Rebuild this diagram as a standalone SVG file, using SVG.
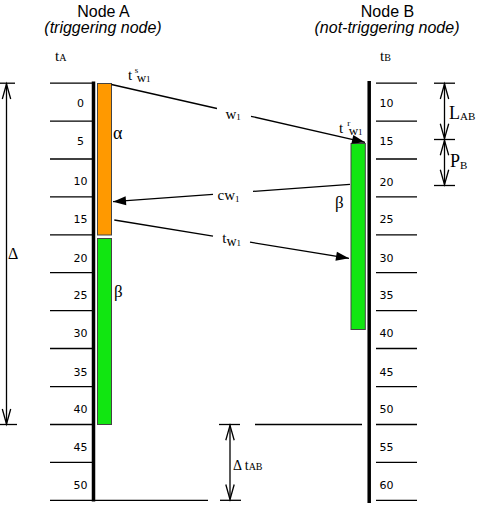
<svg xmlns="http://www.w3.org/2000/svg" width="487" height="512" viewBox="0 0 487 512">
<style>
.title{font-family:"Liberation Sans",Arial,sans-serif;font-size:16px;fill:#000;text-anchor:middle}
.ital{font-style:italic}
.num{font-family:"DejaVu Sans",Verdana,sans-serif;font-size:11px;fill:#000}
.ser{font-family:"Liberation Serif","Times New Roman",serif;fill:#000}
.tick{stroke:#000;stroke-width:1.3}
.axis{stroke:#000;stroke-width:3.5}
.dim{stroke:#000;stroke-width:1.3;fill:none}
.conn{stroke:#000;stroke-width:1.3;fill:none}
.bar{stroke:#444;stroke-width:1}
</style>
<defs>
<marker id="open" markerUnits="userSpaceOnUse" markerWidth="20" markerHeight="12" viewBox="-16 -6 18 12" refX="0" refY="0" orient="auto-start-reverse">
<path d="M-15,-4.2 L0,0 L-15,4.2" fill="none" stroke="#000" stroke-width="1.3"/>
</marker>
<marker id="fill" markerUnits="userSpaceOnUse" markerWidth="16" markerHeight="12" viewBox="-14 -6 15 12" refX="0" refY="0" orient="auto">
<path d="M-13,-4.5 L0,0 L-13,4.5 Z" fill="#000"/>
</marker>
</defs>

<g id="nodeA">
<text class="title" x="103.5" y="17">Node A</text>
<text class="title ital" x="103" y="33">(triggering node)</text>
<text class="ser" x="55" y="61" font-size="15">t<tspan font-size="10">A</tspan></text>
<line class="axis" x1="93.5" y1="81.5" x2="93.5" y2="501.5"/>
<g class="ticks">
<line class="tick" x1="50" y1="83.2" x2="92" y2="83.2"/>
<line class="tick" x1="50" y1="121.1" x2="92" y2="121.1"/>
<line class="tick" x1="50" y1="159" x2="92" y2="159"/>
<line class="tick" x1="50" y1="196.9" x2="92" y2="196.9"/>
<line class="tick" x1="50" y1="234.8" x2="92" y2="234.8"/>
<line class="tick" x1="50" y1="272.7" x2="92" y2="272.7"/>
<line class="tick" x1="50" y1="310.6" x2="92" y2="310.6"/>
<line class="tick" x1="50" y1="348.5" x2="92" y2="348.5"/>
<line class="tick" x1="50" y1="386.6" x2="92" y2="386.6"/>
<line class="tick" x1="50" y1="424.5" x2="92" y2="424.5"/>
<line class="tick" x1="50" y1="462.4" x2="92" y2="462.4"/>
<line class="tick" x1="50" y1="500.3" x2="208" y2="500.3"/>
</g>
<g class="num" text-anchor="middle">
<text x="80.5" y="106.7">0</text>
<text x="80.5" y="145">5</text>
<text x="80.5" y="185">10</text>
<text x="80.5" y="223.2">15</text>
<text x="80.5" y="261.7">20</text>
<text x="80.5" y="299.4">25</text>
<text x="80.5" y="337">30</text>
<text x="80.5" y="375.8">35</text>
<text x="80.5" y="413">40</text>
<text x="80.5" y="450.7">45</text>
<text x="80.5" y="488.7">50</text>
</g>
<rect class="bar" x="97.5" y="83.5" width="14" height="151.5" fill="#ff9900"/>
<rect class="bar" x="97.5" y="238.5" width="14" height="186" fill="#11e611"/>
<text class="ser" x="113" y="139" font-size="18">α</text>
<text class="ser" x="114" y="297" font-size="17">β</text>
</g>

<g id="nodeB">
<text class="title" x="387.5" y="17">Node B</text>
<text class="title ital" x="387" y="33">(not-triggering node)</text>
<text class="ser" x="380" y="61" font-size="15">t<tspan font-size="10">B</tspan></text>
<line class="axis" x1="369.2" y1="81" x2="369.2" y2="503"/>
<g class="ticks">
<line class="tick" x1="376" y1="83.2" x2="417" y2="83.2"/>
<line class="tick" x1="376" y1="121.1" x2="417" y2="121.1"/>
<line class="tick" x1="376" y1="159" x2="417" y2="159"/>
<line class="tick" x1="376" y1="196.9" x2="417" y2="196.9"/>
<line class="tick" x1="376" y1="234.8" x2="417" y2="234.8"/>
<line class="tick" x1="376" y1="272.7" x2="417" y2="272.7"/>
<line class="tick" x1="376" y1="310.6" x2="417" y2="310.6"/>
<line class="tick" x1="376" y1="348.5" x2="417" y2="348.5"/>
<line class="tick" x1="376" y1="386.6" x2="417" y2="386.6"/>
<line class="tick" x1="376" y1="424.5" x2="417" y2="424.5"/>
<line class="tick" x1="376" y1="462.4" x2="417" y2="462.4"/>
<line class="tick" x1="376" y1="500.3" x2="417" y2="500.3"/>
<line class="tick" x1="255" y1="424.5" x2="362" y2="424.5"/>
</g>
<g class="num">
<text x="379.5" y="106.7">10</text>
<text x="379.5" y="145">15</text>
<text x="379.5" y="185.5">20</text>
<text x="379.5" y="223.3">25</text>
<text x="379.5" y="261.7">30</text>
<text x="379.5" y="299.4">35</text>
<text x="379.5" y="336.8">40</text>
<text x="379.5" y="375.8">45</text>
<text x="379.5" y="412.8">50</text>
<text x="379.5" y="450.7">55</text>
<text x="379.5" y="488.5">60</text>
</g>
<rect class="bar" x="351" y="143.5" width="14.3" height="186" fill="#11e611"/>
<text class="ser" x="335" y="208" font-size="17">β</text>
</g>

<g id="dimensions">
<line class="dim" x1="0" y1="83.2" x2="15" y2="83.2"/>
<line class="dim" x1="0" y1="424.5" x2="17" y2="424.5"/>
<line class="dim" x1="6.5" y1="84" x2="6.5" y2="424" marker-start="url(#open)" marker-end="url(#open)"/>
<text class="ser" x="8" y="258.5" font-size="16">Δ</text>

<line class="dim" x1="219" y1="424.5" x2="240" y2="424.5"/>
<line class="dim" x1="220" y1="500.3" x2="241" y2="500.3"/>
<line class="dim" x1="230" y1="425.3" x2="230" y2="499.5" marker-start="url(#open)" marker-end="url(#open)"/>
<text class="ser" x="233" y="470" font-size="14">Δ t<tspan font-size="10">AB</tspan></text>

<line class="dim" x1="434" y1="83.2" x2="455" y2="83.2"/>
<line class="dim" x1="434" y1="139.5" x2="455" y2="139.5"/>
<line class="dim" x1="434" y1="185.5" x2="455" y2="185.5"/>
<line class="dim" x1="444.5" y1="84" x2="444.5" y2="138.7" marker-start="url(#open)" marker-end="url(#open)"/>
<line class="dim" x1="444.5" y1="140.3" x2="444.5" y2="184.7" marker-start="url(#open)" marker-end="url(#open)"/>
<text class="ser" x="449" y="118.5" font-size="18">L<tspan font-size="11" dy="1.5">AB</tspan></text>
<text class="ser" x="450" y="167" font-size="18">P<tspan font-size="11" dy="1.5">B</tspan></text>
</g>

<g id="connectors">
<line class="conn" x1="111.5" y1="84.5" x2="217" y2="108.5"/>
<line class="conn" x1="251" y1="116.3" x2="365" y2="142.3" marker-end="url(#fill)"/>
<line class="conn" x1="350" y1="184.3" x2="253" y2="191.4"/>
<line class="conn" x1="213" y1="194.4" x2="113" y2="201.7" marker-end="url(#fill)"/>
<line class="conn" x1="114.3" y1="220" x2="213" y2="236.1"/>
<line class="conn" x1="250" y1="242.2" x2="349" y2="258.3" marker-end="url(#fill)"/>
<text class="ser" x="128" y="80" font-size="15">t<tspan font-size="9" dx="2.5" dy="-7">s</tspan><tspan font-size="13" dx="-1.5" dy="9">w</tspan><tspan font-size="9">1</tspan></text>
<text class="ser" x="225.5" y="118.5" font-size="15">w<tspan font-size="9" dy="1.5">1</tspan></text>
<text class="ser" x="339" y="133.3" font-size="15">t<tspan font-size="9" dx="4" dy="-7.3">r</tspan><tspan font-size="13" dx="-1.5" dy="9.3">w</tspan><tspan font-size="9">1</tspan></text>
<text class="ser" x="217.5" y="200" font-size="15">cw<tspan font-size="9" dy="1.5">1</tspan></text>
<text class="ser" x="222.3" y="243.3" font-size="15">t<tspan font-size="14" dy="3">w</tspan><tspan font-size="9">1</tspan></text>
</g>
</svg>
